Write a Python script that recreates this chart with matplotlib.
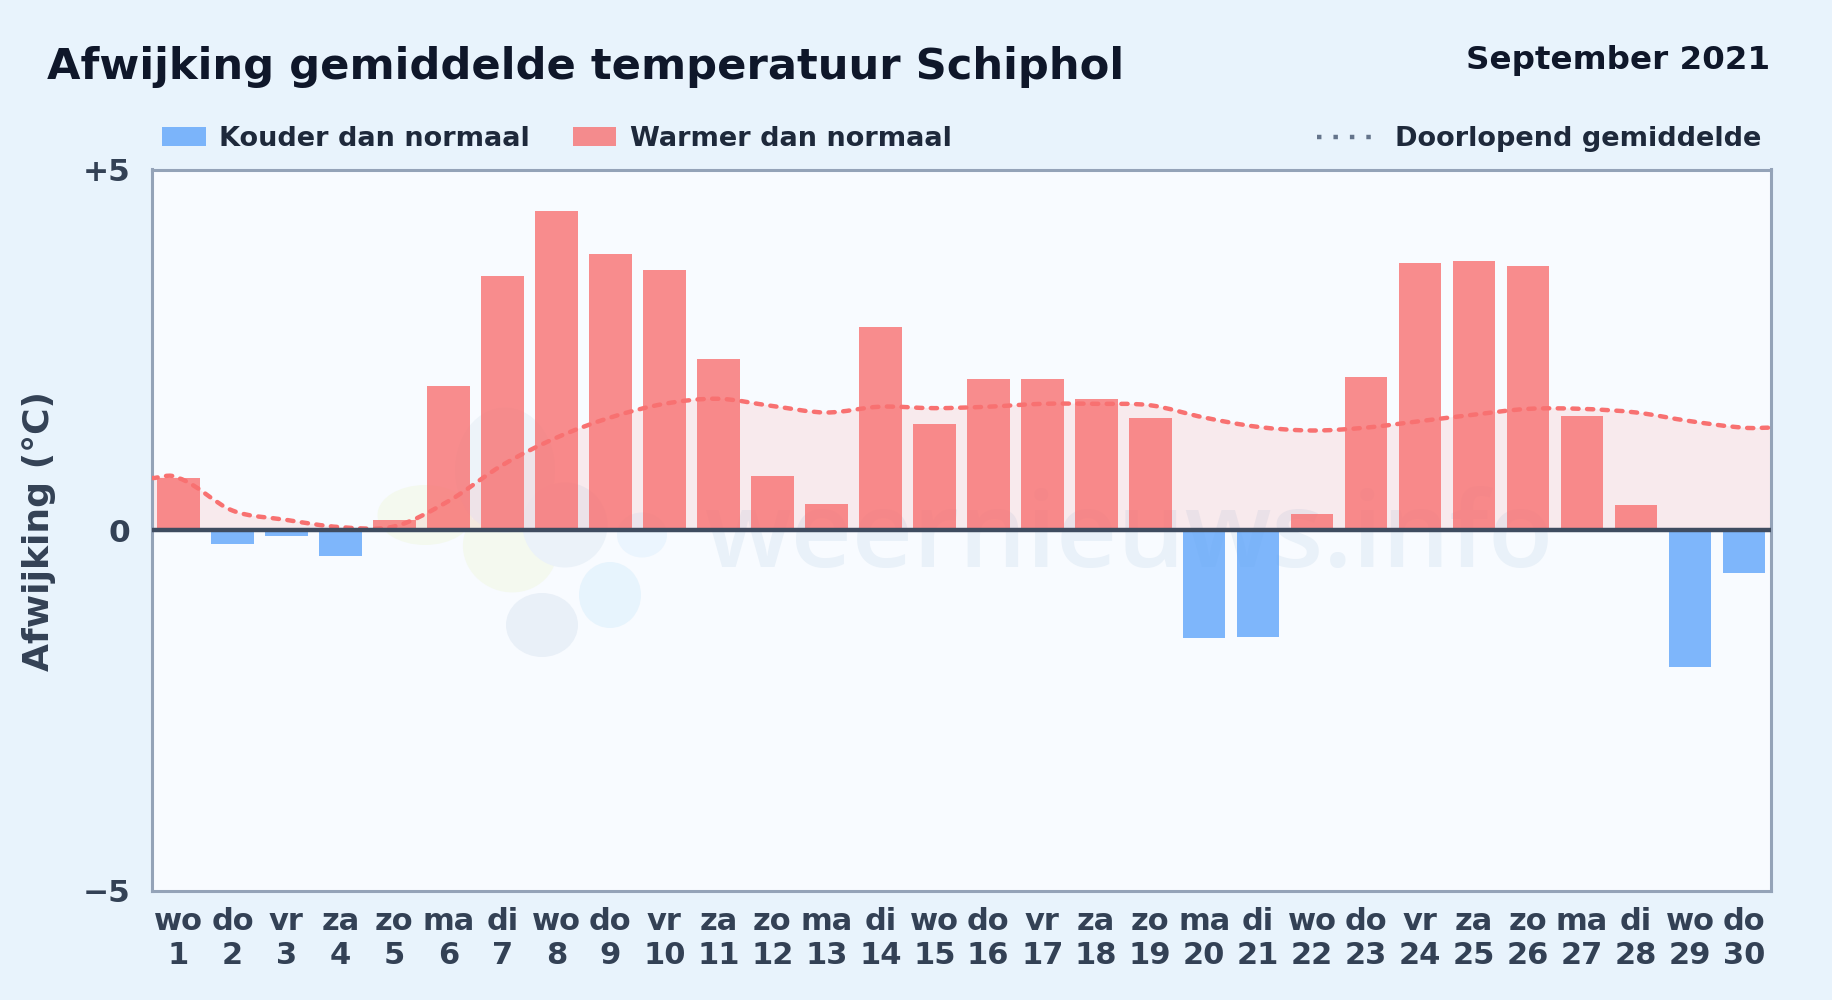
import matplotlib
matplotlib.use("Agg")
import matplotlib.pyplot as plt
import matplotlib.transforms as mtransforms
import numpy as np
from matplotlib.patches import Ellipse, PathPatch, Rectangle
from matplotlib.path import Path

days = list(range(1, 31))
weekdays = ["wo", "do", "vr", "za", "zo", "ma", "di", "wo", "do", "vr",
            "za", "zo", "ma", "di", "wo", "do", "vr", "za", "zo", "ma",
            "di", "wo", "do", "vr", "za", "zo", "ma", "di", "wo", "do"]
anomaly = [0.72, -0.19, -0.09, -0.36, 0.14, 2.00, 3.52, 4.43, 3.83, 3.61,
           2.37, 0.75, 0.36, 2.81, 1.47, 2.09, 2.09, 1.82, 1.56, -1.50,
           -1.48, 0.22, 2.12, 3.70, 3.73, 3.66, 1.58, 0.34, -1.90, -0.60]
running_mean = [0.72, 0.27, 0.14, 0.04, 0.05, 0.40, 0.90, 1.28, 1.56, 1.75,
                1.82, 1.72, 1.63, 1.71, 1.69, 1.71, 1.75, 1.75, 1.73, 1.56,
                1.43, 1.38, 1.42, 1.51, 1.60, 1.68, 1.68, 1.63, 1.51, 1.42]

BG = "#e8f3fc"
PLOT_BG = "#f8fbff"
BLUE = "#60a5fa"
RED = "#f87171"
W, H = 1832, 1000

plt.rcParams["font.family"] = "DejaVu Sans"
plt.rcParams["font.weight"] = "bold"

fig = plt.figure(figsize=(W / 100, H / 100), dpi=100, facecolor=BG)
ax = fig.add_axes([151.5 / W, 1 - 890.5 / H, (1771 - 151.5) / W, (890.5 - 169.5) / H])
ax.set_facecolor(PLOT_BG)

# figure pixels, y downwards
px = mtransforms.Affine2D().scale(1 / W, -1 / H).translate(0, 1) + fig.transFigure

x = np.arange(len(days))
ax.set_xlim(-0.5, len(days) - 0.5)
ax.set_ylim(-5, 5)

# watermark, sits under the bars
for cx, cy, w, h, ang, col in [(425, 515, 95, 60, 0, "#f4f9ef"),
                               (510, 548, 95, 88, 20, "#f4f9ef"),
                               (505, 470, 100, 125, 0, "#edf3f9"),
                               (565, 525, 85, 85, 0, "#ebf2f9"),
                               (542, 625, 72, 64, 0, "#e9f0f8"),
                               (610, 595, 62, 66, 0, "#e7f4fd"),
                               (642, 535, 50, 45, 0, "#ebf5fe")]:
    ax.add_patch(Ellipse((cx, cy), w, h, angle=ang, transform=px, fc=col, ec="none", zorder=1))
ax.text(705, 567, "weernieuws.info", transform=px, fontsize=76.5, family="Open Sans",
        weight=600, color="#e9f1f9", va="baseline", zorder=1.5)

colors = [RED if v >= 0 else BLUE for v in anomaly]
ax.bar(x, anomaly, width=0.79, color=colors, alpha=0.8, zorder=3)


def smooth_path(xs, ys):
    # bezier through the daily values, flat out to both axis edges
    xs = np.concatenate([[-0.5], xs, [len(xs) - 0.5]])
    ys = np.concatenate([[ys[0]], ys, [ys[-1]]])
    verts = [(xs[0], ys[0])]
    codes = [Path.MOVETO]
    for i in range(len(xs) - 1):
        m0 = (ys[i + 1] - ys[max(i - 1, 0)]) / 6
        m1 = (ys[min(i + 2, len(ys) - 1)] - ys[i]) / 6
        step = (xs[i + 1] - xs[i]) / 3
        verts += [(xs[i] + step, ys[i] + m0), (xs[i + 1] - step, ys[i + 1] - m1), (xs[i + 1], ys[i + 1])]
        codes += [Path.CURVE4] * 3
    return verts, codes


verts, codes = smooth_path(x, np.array(running_mean))
area = verts + [(verts[-1][0], 0), (verts[0][0], 0), verts[0]]
area_codes = codes + [Path.LINETO, Path.LINETO, Path.CLOSEPOLY]
ax.add_patch(PathPatch(Path(area, area_codes), fc=RED, ec="none", alpha=0.12, zorder=2))
ax.add_patch(PathPatch(Path(verts, codes), fc="none", ec=RED, lw=3.2, zorder=4,
                       linestyle=(0, (1.4, 1.9)), capstyle="round"))

ax.axhline(0, color="#3f4c60", lw=3.2, zorder=5)

for side in ax.spines.values():
    side.set_color("#94a3b8")
    side.set_linewidth(2.2)

ax.set_xticks(x)
ax.set_xticklabels([f"{d}\n{n}" for d, n in zip(weekdays, days)], fontsize=22, color="#334155", linespacing=1.2)
ax.set_yticks([-5, 0, 5])
ax.set_yticklabels(["\u22125", "0", "+5"], fontsize=22.5, color="#334155")
ax.tick_params(axis="both", length=0, pad=15)
ax.tick_params(axis="x", pad=12)
fig.text(39.5 / W, 1 - 531 / H, "Afwijking (\u00b0C)", fontsize=26, color="#334155",
         rotation=90, ha="center", va="center")

fig.text(47 / W, 1 - 67 / H, "Afwijking gemiddelde temperatuur Schiphol", fontsize=31.13, color="#0f172a", va="center")
fig.text(1770 / W, 1 - 61 / H, "September 2021", fontsize=23.4, color="#0f172a", va="center", ha="right")

# legend row above the plot
fig.add_artist(Rectangle((162, 127), 44, 19, transform=px, fc=BLUE, alpha=0.8, ec="none"))
fig.text(219 / W, 1 - 139 / H, "Kouder dan normaal", fontsize=19.5, color="#1e293b", va="center")
fig.add_artist(Rectangle((573, 127), 43, 19, transform=px, fc=RED, alpha=0.8, ec="none"))
fig.text(630 / W, 1 - 139 / H, "Warmer dan normaal", fontsize=19.5, color="#1e293b", va="center")
fig.add_artist(plt.Line2D([1317, 1375], [137, 137], transform=px, color="#64748b", lw=3.2, linestyle=(0, (1, 2.7))))
fig.text(1395 / W, 1 - 139 / H, "Doorlopend gemiddelde", fontsize=19.5, color="#1e293b", va="center")

fig.savefig("out.png", dpi=100, facecolor=BG)
